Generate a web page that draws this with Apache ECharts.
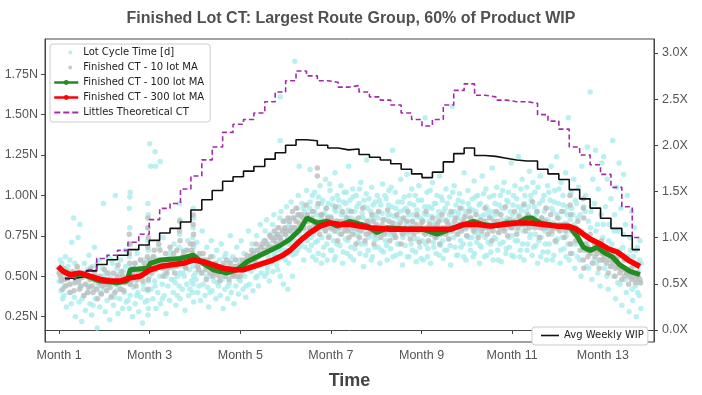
<!DOCTYPE html>
<html><head><meta charset="utf-8">
<script src="https://cdn.jsdelivr.net/npm/echarts@6/dist/echarts.min.js"></script>
<style>html,body{margin:0;padding:0;background:#fff}#c{width:702px;height:395px}</style>
</head><body><div id="c"></div>
<script>
// ---------- tick labels ----------
const xTickMonths = [1, 3, 5, 7, 9, 11, 13];
const leftTicks = [0.25, 0.5, 0.75, 1.0, 1.25, 1.5, 1.75];
const rightTicks = [0, 0.5, 1.0, 1.5, 2.0, 2.5, 3.0];

// ---------- weekly step series ----------
const weekMonths = [1.13,1.36,1.60,1.83,2.06,2.29,2.52,2.76,2.99,3.22,3.45,3.68,3.91,4.15,4.38,4.61,4.84,5.07,5.30,5.54,5.77,6.00,6.23,6.46,6.70,6.93,7.16,7.39,7.62,7.85,8.09,8.32,8.55,8.78,9.01,9.24,9.48,9.71,9.94,10.17,10.40,10.64,10.87,11.10,11.33,11.56,11.79,12.03,12.26,12.49,12.72,12.95,13.18,13.42,13.65,13.82];
const avgWip = [0.56,0.58,0.64,0.71,0.76,0.81,0.87,0.92,0.97,1.05,1.10,1.17,1.30,1.41,1.51,1.61,1.66,1.72,1.77,1.85,1.92,2.00,2.06,2.05,2.00,1.97,1.95,1.96,1.90,1.87,1.84,1.80,1.74,1.69,1.65,1.71,1.82,1.91,1.97,1.89,1.88,1.86,1.84,1.83,1.83,1.74,1.69,1.63,1.52,1.42,1.32,1.21,1.10,1.02,0.87,0.87];
const littlesCT = [0.48,0.50,0.54,0.61,0.63,0.66,0.71,0.76,0.85,0.92,0.95,1.04,1.12,1.22,1.30,1.39,1.44,1.47,1.51,1.58,1.64,1.71,1.77,1.74,1.71,1.70,1.67,1.68,1.64,1.61,1.59,1.56,1.51,1.47,1.43,1.47,1.56,1.65,1.69,1.62,1.61,1.59,1.58,1.58,1.57,1.50,1.46,1.41,1.30,1.25,1.19,1.13,1.05,0.93,0.74,0.74];

// ---------- moving averages ----------
const ma100Months = [1.09,1.24,1.53,1.91,2.28,2.50,2.57,2.96,3.01,3.23,3.67,3.96,4.18,4.40,4.71,4.93,5.15,5.37,5.59,5.88,6.10,6.32,6.47,6.70,6.92,7.14,7.42,7.80,8.02,8.24,8.68,9.04,9.34,9.63,9.85,10.14,10.36,10.58,10.89,11.11,11.33,11.44,11.62,11.99,12.28,12.43,12.57,12.72,12.88,13.01,13.21,13.38,13.60,13.82];
const ma100 = [0.53,0.51,0.51,0.47,0.46,0.47,0.54,0.55,0.58,0.60,0.61,0.63,0.58,0.54,0.52,0.54,0.59,0.62,0.65,0.69,0.73,0.79,0.86,0.83,0.84,0.81,0.84,0.81,0.77,0.80,0.79,0.79,0.76,0.79,0.81,0.84,0.82,0.81,0.83,0.83,0.86,0.86,0.83,0.81,0.80,0.75,0.68,0.66,0.68,0.65,0.62,0.57,0.53,0.51];
const ma300Months = [0.98,1.09,1.24,1.46,1.68,1.91,2.13,2.35,2.57,2.79,3.01,3.23,3.45,3.74,3.96,4.18,4.40,4.62,4.84,5.06,5.28,5.50,5.72,5.94,6.10,6.32,6.54,6.76,6.98,7.20,7.42,7.87,8.31,8.75,9.19,9.63,9.92,10.23,10.51,10.80,11.11,11.40,11.68,11.99,12.24,12.43,12.57,12.72,12.94,13.12,13.32,13.56,13.82];
const ma300 = [0.56,0.53,0.51,0.52,0.50,0.48,0.47,0.47,0.49,0.50,0.54,0.56,0.57,0.58,0.60,0.59,0.57,0.55,0.54,0.54,0.56,0.58,0.60,0.63,0.66,0.72,0.77,0.81,0.83,0.82,0.82,0.80,0.79,0.79,0.79,0.79,0.82,0.82,0.81,0.82,0.83,0.83,0.82,0.81,0.81,0.79,0.76,0.73,0.70,0.67,0.65,0.60,0.56];

// ---------- lot cycle times [month, N] ----------
const lotCycleTime = [
[0.98,0.55],[1.0,0.47],[1.02,0.52],[1.04,0.41],[1.06,0.58],[1.08,0.36],[1.1,0.5],[1.12,0.44],[1.14,0.62],[1.16,0.31],[1.18,0.49],[1.2,0.56],[1.22,0.4],[1.24,0.6],[1.26,0.45],[1.28,0.71],[1.3,0.52],[1.32,0.86],[1.34,0.37],[1.36,0.25],[1.38,0.48],[1.4,0.55],[1.42,0.74],[1.44,0.34],[1.46,0.82],[1.48,0.43],[1.5,0.22],
[1.52,0.5],[1.54,0.38],[1.56,0.58],[1.58,0.29],[1.6,0.45],[1.62,0.54],[1.64,0.4],[1.66,0.63],[1.68,0.33],[1.7,0.48],[1.72,0.26],[1.74,0.56],[1.76,0.42],[1.78,0.68],[1.8,0.36],[1.82,0.5],[1.84,0.18],[1.86,0.44],[1.88,0.6],[1.9,0.31],[1.92,0.47],[1.94,0.39],[1.96,0.55],[1.98,0.95],[2.0,0.42],[2.02,0.28],[2.04,0.52],[2.06,0.35],[2.08,0.62],[2.1,0.45],[2.12,0.23],[2.14,0.5],[2.16,0.38],[2.18,0.58],[2.2,0.32],[2.22,0.47],[2.24,1.0],[2.26,0.41],[2.28,0.55],[2.3,0.27],[2.32,0.44],[2.34,0.36],[2.36,0.6],[2.38,0.49],[2.4,0.3],[2.42,0.53],[2.44,0.4],[2.46,0.66],[2.48,0.34],
[2.55,0.92],[2.56,0.99],[2.57,1.02],[2.56,0.8],[2.57,0.7],[2.55,0.62],[2.58,0.55],[2.56,0.45],[2.57,0.38],[2.55,0.3],
[2.5,0.48],[2.52,0.35],[2.6,0.52],[2.62,0.25],[2.64,0.43],[2.66,0.58],[2.68,0.33],[2.7,0.47],[2.72,0.64],[2.74,0.4],[2.76,0.28],[2.78,0.55],[2.8,0.37],[2.82,0.5],[2.84,0.21],[2.86,0.45],[2.88,0.6],[2.9,0.34],[2.92,0.52],
[2.96,0.95],[2.97,0.88],[2.96,0.8],[2.95,0.72],[2.97,0.66],[2.96,0.6],[2.95,0.53],[2.97,0.47],[2.96,0.41],[2.95,0.35],[2.97,0.3],[2.96,0.26],
[3.0,1.32],[3.12,1.27],[3.23,1.21],[3.02,1.18],[3.13,1.18],
[3.0,0.5],[3.03,0.42],[3.05,0.58],[3.07,0.36],[3.09,0.62],[3.11,0.47],[3.14,0.3],[3.16,0.55],[3.18,0.4],[3.2,0.68],[3.22,0.5],[3.24,0.33],[3.26,0.58],[3.28,0.45],[3.3,0.74],[3.32,0.38],[3.34,0.52],[3.36,0.27],[3.38,0.6],[3.4,0.44],[3.42,0.56],[3.44,0.35],[3.46,0.65],[3.48,0.48],
[3.5,0.55],[3.52,0.4],[3.54,0.7],[3.56,0.46],[3.58,0.32],[3.6,0.6],[3.62,0.5],
[3.66,0.95],[3.67,0.85],[3.66,0.76],[3.65,0.68],[3.67,0.6],[3.66,0.52],[3.65,0.44],[3.67,0.36],
[3.7,0.57],[3.72,0.42],[3.74,0.66],[3.76,0.5],[3.78,0.29],[3.8,0.58],[3.82,0.45],[3.84,0.72],[3.86,0.38],[3.88,0.54],[3.9,0.62],[3.92,0.47],
[3.96,0.92],[3.97,0.86],[3.96,0.8],[3.95,0.74],[3.97,0.68],[3.96,0.62],[3.95,0.56],[3.97,0.5],[3.96,0.45],[3.95,0.4],[3.97,0.34],
[4.0,0.6],[4.02,0.48],[4.04,0.71],[4.06,0.4],[4.08,0.55],[4.1,0.63],[4.12,0.35],[4.14,0.52],[4.16,0.78],[4.18,0.45],[4.2,0.6],[4.22,0.38],[4.24,0.56],[4.26,0.68],[4.28,0.43],[4.3,0.31],[4.32,0.58],[4.34,0.5],[4.36,0.72],[4.38,0.41],[4.4,0.62],[4.42,0.47],[4.44,0.55],[4.46,0.36],[4.48,0.66],
[4.5,0.52],[4.52,0.44],[4.54,0.6],[4.56,0.38],[4.58,0.7],[4.6,0.48],[4.62,0.3],[4.64,0.56],[4.66,0.42],[4.68,0.64],[4.7,0.5],[4.72,0.36],[4.74,0.58],[4.76,0.46],[4.78,0.75],[4.8,0.4],[4.82,0.54],[4.84,0.62],[4.86,0.33],[4.88,0.5],[4.9,0.44],[4.92,0.68],[4.94,0.56],[4.96,0.39],[4.98,0.6],[5.0,0.47],[5.02,0.72],[5.04,0.52],[5.06,0.42],[5.08,0.64],[5.1,0.5],[5.12,0.37],[5.14,0.6],[5.16,0.55],[5.18,0.78],[5.2,0.45],[5.22,0.62],[5.24,0.53],[5.26,0.7],[5.28,0.41],[5.3,0.58],[5.32,0.66],[5.34,0.49],[5.36,0.75],[5.38,0.56],[5.4,0.44],[5.42,0.63],[5.44,0.82],[5.46,0.52],[5.48,0.68],
[5.5,0.58],[5.52,0.72],[5.54,0.5],[5.56,0.66],[5.58,0.85],[5.6,0.55],[5.62,0.62],[5.64,0.47],[5.66,0.76],[5.68,0.6],[5.7,0.68],[5.72,0.53],[5.74,0.88],[5.76,0.64],[5.78,0.72],[5.8,0.57],[5.82,0.8],[5.84,0.66],[5.86,0.74],[5.88,1.61],[5.88,1.34],[5.88,0.5],[5.9,0.9],[5.92,0.7],[5.94,0.62],[5.96,0.78],[5.98,0.84],[6.0,0.66],[6.02,0.93],[6.04,0.74],[6.06,0.58],[6.08,0.82],[6.1,0.7],[6.12,0.96],[6.14,0.77],[6.16,0.63],[6.18,0.86],[6.2,1.83],[6.2,0.72],[6.22,0.92],[6.24,0.8],[6.26,0.66],[6.28,1.0],[6.3,1.18],[6.3,0.76],[6.32,0.87],[6.34,0.7],[6.36,0.95],[6.38,0.82],[6.4,0.6],[6.42,0.9],[6.44,0.78],[6.46,1.03],[6.48,0.72],[6.54,1.16],[5.95,0.45],[6.15,0.5],[6.05,0.42],
[6.5,0.85],[6.52,0.66],[6.54,0.96],[6.56,0.74],[6.58,0.9],[6.6,0.62],[6.62,0.82],[6.64,1.02],[6.66,0.71],[6.68,0.88],[6.7,0.93],[6.72,0.64],[6.74,0.79],[6.76,1.06],[6.78,0.86],[6.79,0.58],[6.8,0.74],[6.82,0.97],[6.84,0.68],[6.86,0.89],[6.88,1.1],[6.9,0.8],[6.92,0.6],[6.94,0.95],[6.96,0.75],[6.98,1.03],
[7.0,0.87],[7.02,0.66],[7.04,0.98],[7.06,0.72],[7.08,0.91],[7.09,1.14],[7.1,0.62],[7.12,0.84],[7.14,1.0],[7.16,0.77],[7.18,0.93],[7.2,0.69],[7.22,1.06],[7.24,0.82],[7.26,0.58],[7.28,0.96],[7.3,0.88],[7.32,0.73],[7.34,1.02],[7.36,0.64],[7.38,0.91],[7.39,1.18],[7.4,0.79],[7.42,0.97],[7.44,0.68],[7.46,0.86],[7.48,1.04],
[7.5,0.6],[7.52,0.9],[7.54,0.76],[7.56,1.0],[7.58,0.83],[7.6,0.71],[7.62,0.95],[7.64,0.64],[7.66,1.08],[7.68,0.87],[7.7,0.78],[7.72,0.56],[7.74,0.93],[7.76,0.7],[7.78,1.01],[7.79,1.22],[7.8,0.84],[7.82,0.66],[7.84,0.98],[7.86,0.75],[7.88,0.9],[7.9,1.05],[7.92,0.62],[7.94,0.86],[7.96,0.73],[7.98,0.96],
[8.0,0.8],[8.02,1.0],[8.04,0.68],[8.06,0.9],[8.08,0.58],[8.1,0.94],[8.12,0.77],[8.14,1.07],[8.16,0.65],[8.18,0.85],[8.2,0.72],[8.22,0.98],[8.24,0.6],[8.26,0.88],[8.28,1.03],[8.3,0.79],[8.32,0.67],[8.34,0.93],[8.36,1.28],[8.38,0.74],[8.4,0.87],[8.42,1.02],[8.44,0.63],[8.46,0.82],[8.48,0.96],
[8.5,0.7],[8.52,0.9],[8.54,1.1],[8.56,0.77],[8.58,0.57],[8.6,0.85],[8.62,0.99],[8.64,0.69],[8.66,0.92],[8.68,1.13],[8.7,0.76],[8.72,0.62],[8.74,0.95],[8.76,0.81],[8.78,1.04],[8.8,0.66],[8.82,0.88],[8.84,0.73],[8.86,1.0],[8.88,0.59],[8.9,0.91],[8.92,0.78],[8.94,1.06],[8.96,0.68],[8.98,0.86],
[9.0,0.97],[9.02,0.72],[9.04,0.6],[9.06,0.89],[9.08,1.48],[9.1,0.8],[9.12,1.02],[9.14,0.67],[9.16,0.93],[9.18,0.76],[9.2,0.58],[9.22,0.87],[9.24,1.08],[9.26,0.71],[9.28,0.95],[9.3,0.82],[9.32,0.64],[9.34,1.0],[9.36,0.75],[9.38,0.9],[9.4,1.12],[9.42,0.69],[9.44,0.85],[9.46,0.97],[9.48,0.61],
[9.5,0.78],[9.52,0.92],[9.54,1.04],[9.56,0.66],[9.58,0.84],[9.6,0.73],[9.62,0.99],[9.64,0.57],[9.66,0.88],[9.68,1.55],[9.7,0.81],[9.72,1.06],[9.74,0.68],[9.76,0.94],[9.78,0.76],[9.8,0.63],[9.82,0.89],[9.84,1.01],[9.86,0.72],[9.88,0.85],[9.9,0.96],[9.92,0.7],[9.94,1.14],[9.96,0.79],[9.98,0.6],
[10.0,0.87],[10.02,1.03],[10.04,0.74],[10.06,0.92],[10.08,0.66],[10.1,0.82],[10.12,0.98],[10.14,0.62],[10.16,1.09],[10.18,0.77],[10.2,0.9],[10.22,0.71],[10.24,1.0],[10.26,0.84],[10.28,0.58],[10.3,0.95],[10.32,0.68],[10.34,1.12],[10.36,0.8],[10.38,0.88],[10.4,0.74],[10.42,1.04],[10.44,0.63],[10.46,0.91],[10.48,0.79],
[10.5,0.99],[10.52,0.7],[10.54,0.86],[10.56,1.17],[10.58,0.6],[10.6,0.83],[10.62,0.95],[10.64,0.73],[10.66,1.05],[10.68,0.66],[10.7,0.89],[10.72,0.77],[10.74,1.0],[10.76,0.59],[10.78,0.92],[10.8,0.71],[10.82,1.08],[10.84,0.84],[10.86,0.64],[10.88,0.97],[10.9,0.8],[10.92,1.02],[10.94,0.68],[10.96,0.9],[10.98,1.2],
[11.0,0.75],[11.02,0.94],[11.04,0.62],[11.06,1.06],[11.08,0.85],[11.1,0.98],[11.12,0.72],[11.14,1.24],[11.16,0.88],[11.18,0.66],[11.2,0.91],[11.22,1.1],[11.24,0.78],[11.26,0.6],[11.28,1.0],[11.3,0.83],[11.32,1.05],[11.34,0.7],[11.36,0.93],[11.38,1.15],[11.4,0.76],[11.42,0.97],[11.44,0.63],[11.46,1.08],[11.48,0.86],
[11.5,1.02],[11.52,0.69],[11.54,0.9],[11.56,0.58],[11.58,0.8],[11.6,0.95],[11.62,1.12],[11.64,0.74],[11.66,0.86],[11.68,0.65],[11.7,1.0],[11.72,0.78],[11.74,0.92],[11.76,0.6],[11.78,1.06],[11.8,0.84],[11.82,0.7],[11.84,0.97],[11.86,1.18],[11.88,0.76],[11.9,0.9],[11.92,0.63],[11.94,1.03],[11.96,0.8],[11.98,1.24],
[12.0,0.73],[12.02,0.95],[12.04,0.86],[12.06,0.58],[12.08,1.08],[12.1,0.82],[12.12,1.0],[12.14,0.67],[12.16,0.9],[12.18,1.14],[12.2,0.75],[12.22,0.93],[12.24,1.48],[12.26,0.6],[12.28,0.85],[12.3,1.02],[12.32,0.7],[12.34,0.88],[12.36,1.1],[12.38,0.55],
[12.4,0.8],[12.42,0.95],[12.44,0.62],[12.46,1.05],[12.48,0.72],[12.5,0.88],[12.52,0.5],[12.54,1.18],[12.56,0.68],[12.58,0.93],[12.6,0.76],[12.62,1.0],[12.64,0.56],[12.66,1.3],[12.68,0.84],[12.7,0.64],[12.72,1.64],[12.74,0.9],[12.76,0.48],[12.78,1.1],[12.8,0.72],[12.82,0.95],[12.84,1.28],[12.86,0.58],[12.88,0.82],[12.9,1.04],[12.92,0.66],[12.94,0.44],[12.96,0.88],[12.98,1.2],
[13.0,0.74],[13.02,1.24],[13.04,0.55],[13.06,0.93],[13.08,0.68],[13.1,1.1],[13.12,0.42],[13.14,0.82],[13.16,0.62],[13.18,0.98],[13.2,0.7],[13.22,1.34],[13.24,0.5],[13.26,0.88],[13.28,0.36],[13.3,1.05],[13.32,0.6],[13.34,0.78],[13.36,1.2],[13.38,0.45],[13.4,0.92],[13.42,0.32],[13.44,0.68],[13.46,1.13],[13.48,0.55],
[13.5,0.82],[13.52,0.4],[13.54,1.0],[13.56,0.62],[13.58,0.28],[13.6,0.74],[13.62,0.5],[13.64,0.9],[13.66,0.35],[13.68,0.62],[13.7,0.8],[13.72,0.44],[13.74,0.25],[13.76,0.68],[13.78,0.53],[13.8,0.38],[13.82,0.72],[13.84,0.3],[13.85,0.58],[13.83,0.46],
[1.03,0.6],[1.11,0.38],[1.19,0.53],[1.27,0.33],[1.35,0.58],[1.43,0.46],[1.51,0.36],[1.59,0.52],[1.67,0.44],[1.75,0.32],[1.83,0.57],[1.91,0.4],[1.99,0.5],[2.07,0.43],[2.15,0.6],[2.23,0.37],[2.31,0.51],[2.39,0.42],[2.47,0.56],[2.63,0.5],[2.71,0.38],[2.79,0.6],[2.87,0.42],[3.04,0.55],[3.12,0.44],[3.2,0.58],[3.28,0.36],[3.36,0.5],[3.44,0.62],[3.53,0.48],[3.61,0.38],[3.73,0.52],[3.81,0.66],[3.89,0.42],[4.01,0.52],[4.09,0.44],[4.17,0.6],[4.25,0.5],[4.33,0.4],[4.41,0.54],[4.49,0.46],[4.57,0.55],[4.65,0.62],[4.73,0.44],[4.81,0.6],[4.89,0.56],[4.97,0.48],[5.05,0.58],[5.13,0.44],[5.21,0.55],[5.29,0.64],[5.37,0.5],[5.45,0.58],
[5.51,0.64],[5.55,0.78],[5.59,0.52],[5.63,0.7],[5.67,0.58],[5.71,0.82],[5.75,0.62],[5.79,0.76],[5.83,0.54],[5.87,0.86],[5.91,0.66],[5.95,0.76],[5.99,0.6],[6.03,0.8],[6.07,0.7],[6.11,0.86],[6.15,0.66],[6.19,0.78],[6.23,0.64],[6.27,0.88],[6.31,0.68],[6.35,0.8],[6.39,0.92],[6.43,0.68],[6.47,0.88],
[6.51,0.78],[6.53,0.92],[6.57,0.69],[6.59,1.0],[6.61,0.76],[6.63,0.9],[6.67,0.6],[6.69,0.83],[6.71,0.72],[6.73,0.99],[6.77,0.81],[6.79,0.95],[6.81,0.85],[6.83,0.63],[6.87,0.78],[6.89,0.92],[6.91,0.7],[6.93,0.87],[6.97,1.07],[6.99,0.66],
[7.01,0.79],[7.03,0.94],[7.07,0.6],[7.09,0.84],[7.11,0.9],[7.13,0.7],[7.17,0.97],[7.19,0.8],[7.21,0.76],[7.23,0.88],[7.27,0.65],[7.29,1.02],[7.31,0.81],[7.33,0.95],[7.37,0.72],[7.39,0.86],[7.41,0.9],[7.43,0.62],[7.47,0.78],[7.49,0.99],
[7.51,0.84],[7.53,0.67],[7.57,0.93],[7.59,0.75],[7.61,0.8],[7.63,1.04],[7.67,0.7],[7.69,0.89],[7.71,0.86],[7.73,0.97],[7.77,0.63],[7.79,0.8],[7.81,0.92],[7.83,0.74],[7.87,0.85],[7.89,0.6],[7.91,0.78],[7.93,0.94],[7.97,0.68],[7.99,0.88],
[8.01,0.73],[8.03,0.86],[8.07,0.97],[8.09,0.77],[8.11,0.66],[8.13,0.89],[8.17,0.8],[8.19,1.0],[8.21,0.85],[8.23,0.69],[8.27,0.94],[8.29,0.76],[8.31,0.88],[8.33,1.05],[8.37,0.62],[8.39,0.83],[8.41,0.75],[8.43,0.92],[8.47,0.7],[8.49,0.86],
[8.51,0.8],[8.53,0.64],[8.57,0.96],[8.59,0.74],[8.61,0.91],[8.63,0.77],[8.67,0.83],[8.69,0.62],[8.71,0.88],[8.73,1.0],[8.77,0.7],[8.79,0.84],[8.81,0.78],[8.83,0.94],[8.87,0.65],[8.89,0.87],[8.91,0.73],[8.93,0.97],[8.97,0.8],[8.99,0.61],
[9.01,0.85],[9.03,0.79],[9.07,0.93],[9.09,0.7],[9.11,0.88],[9.13,0.62],[9.17,0.84],[9.19,1.03],[9.21,0.77],[9.23,0.92],[9.27,0.68],[9.29,0.83],[9.31,0.95],[9.33,0.74],[9.37,0.87],[9.39,0.63],[9.41,0.8],[9.43,0.99],[9.47,0.72],[9.49,0.9],
[9.51,0.66],[9.53,0.85],[9.57,0.95],[9.59,0.77],[9.61,0.88],[9.63,0.69],[9.67,0.82],[9.69,1.02],[9.71,0.74],[9.73,0.9],[9.77,0.63],[9.79,0.86],[9.81,0.97],[9.83,0.78],[9.87,0.68],[9.89,0.92],[9.91,0.83],[9.93,0.62],[9.97,0.9],[9.99,0.75],
[10.01,0.8],[10.03,0.95],[10.07,0.7],[10.09,0.86],[10.11,0.74],[10.13,0.91],[10.17,0.64],[10.19,0.99],[10.21,0.82],[10.23,0.77],[10.27,0.94],[10.29,0.69],[10.31,0.87],[10.33,0.76],[10.37,1.01],[10.39,0.62],[10.41,0.84],[10.43,0.93],[10.47,0.71],[10.49,0.88],
[10.51,0.78],[10.53,0.65],[10.57,0.9],[10.59,1.0],[10.61,0.74],[10.63,0.88],[10.67,0.81],[10.69,0.6],[10.71,0.94],[10.73,0.7],[10.77,0.85],[10.79,1.03],[10.81,0.79],[10.83,0.92],[10.87,0.67],[10.89,0.86],[10.91,0.96],[10.93,0.74],[10.97,0.82],[10.99,0.63],
[11.01,0.88],[11.03,1.0],[11.07,0.72],[11.09,0.84],[11.11,0.78],[11.13,0.93],[11.17,0.62],[11.19,1.04],[11.21,0.84],[11.23,0.7],[11.27,0.95],[11.29,0.8],[11.31,0.9],[11.33,0.66],[11.37,0.87],[11.39,0.74],[11.41,1.0],[11.43,0.82],[11.47,0.68],[11.49,0.93],
[11.51,0.76],[11.53,0.88],[11.57,1.05],[11.59,0.72],[11.61,0.84],[11.63,0.62],[11.67,0.97],[11.69,0.79],[11.71,0.9],[11.73,0.7],[11.77,0.85],[11.79,0.65],[11.81,1.02],[11.83,0.77],[11.87,0.92],[11.89,0.6],[11.91,0.83],[11.93,0.96],[11.97,0.71],[11.99,0.88],
[12.01,0.79],[12.03,1.04],[12.07,0.66],[12.09,0.9],[12.11,0.74],[12.13,0.94],[12.17,0.83],[12.19,0.62],[12.21,0.88],[12.23,0.7],[12.27,1.0],[12.29,0.78],[12.31,0.92],[12.33,0.64],[12.37,0.82],[12.39,0.97],
[12.41,0.7],[12.45,0.86],[12.49,0.6],[12.53,0.78],[12.57,0.66],[12.61,0.9],[12.65,0.7],[12.69,0.55],[12.73,0.8],[12.77,0.66],[12.81,0.6],[12.85,0.78],[12.89,0.52],[12.93,0.7],[12.97,0.6],[13.01,0.82],[13.05,0.64],[13.09,0.5],[13.13,0.72],[13.17,0.56],[13.21,0.64],[13.25,0.78],[13.29,0.58],[13.33,0.46],[13.37,0.66],[13.41,0.56],[13.45,0.76],[13.49,0.48],[13.53,0.62],[13.57,0.52],[13.61,0.66],[13.65,0.42],[13.69,0.56],[13.73,0.66],[13.77,0.4],[13.81,0.6]
];

// ---------- 10-lot moving average points [month, N] ----------
const ma10 = [
[1.0,0.52],[1.05,0.47],[1.1,0.55],[1.15,0.44],[1.2,0.5],[1.25,0.4],[1.3,0.53],[1.35,0.46],[1.4,0.56],[1.45,0.42],[1.5,0.49],
[1.55,0.38],[1.6,0.5],[1.65,0.43],[1.7,0.55],[1.75,0.4],[1.8,0.47],[1.85,0.36],[1.9,0.5],[1.95,0.44],[2.0,0.54],[2.05,0.41],[2.1,0.48],[2.15,0.37],[2.2,0.52],[2.25,0.45],[2.3,0.57],[2.35,0.42],[2.4,0.5],[2.45,0.46],
[2.55,0.76],[2.56,0.7],[2.55,0.64],[2.56,0.58],[2.57,0.52],
[2.6,0.48],[2.65,0.55],[2.7,0.44],[2.75,0.52],[2.8,0.6],[2.85,0.47],[2.9,0.56],
[2.96,0.86],[2.96,0.8],[2.97,0.74],[2.96,0.68],[2.95,0.62],[2.96,0.55],[2.97,0.48],[2.96,0.42],
[3.0,0.6],[3.05,0.52],[3.1,0.66],[3.15,0.56],[3.2,0.7],[3.25,0.58],[3.3,0.5],[3.35,0.64],[3.4,0.55],[3.45,0.68],[3.5,0.6],[3.55,0.52],[3.6,0.66],
[3.66,0.84],[3.66,0.78],[3.67,0.72],
[3.7,0.58],[3.75,0.65],[3.8,0.55],[3.85,0.62],[3.9,0.7],
[3.96,0.88],[3.96,0.82],[3.97,0.76],[3.96,0.7],[3.95,0.64],
[4.0,0.6],[4.05,0.56],[4.1,0.64],[4.15,0.52],[4.2,0.6],[4.25,0.48],[4.3,0.56],[4.35,0.62],[4.4,0.5],[4.45,0.58],[4.5,0.53],[4.55,0.47],[4.6,0.56],[4.65,0.5],[4.7,0.6],[4.75,0.48],[4.8,0.55],[4.85,0.51],[4.9,0.6],[4.95,0.54],[5.0,0.5],[5.05,0.6],[5.1,0.55],[5.15,0.63],[5.2,0.57],[5.25,0.66],[5.3,0.6],[5.35,0.7],[5.4,0.62],[5.45,0.68],[5.5,0.64],[5.55,0.72],[5.6,0.66],[5.65,0.75],[5.7,0.68],[5.75,0.78],[5.8,0.7],[5.85,0.8],[5.9,0.72],[5.95,0.84],[6.0,0.76],[6.05,0.86],[6.1,0.78],[6.15,0.9],[6.2,0.8],[6.25,0.92],[6.3,0.83],[6.35,0.88],[6.4,0.8],[6.45,0.94],
[6.5,0.84],[6.55,0.78],[6.6,0.9],[6.65,0.82],[6.7,1.17],[6.7,1.12],[6.72,0.95],[6.75,0.76],[6.8,0.88],[6.85,0.8],[6.9,0.92],[6.95,0.74],[7.0,0.86],[7.05,0.8],[7.1,0.93],[7.15,0.72],[7.2,0.84],[7.25,0.9],[7.3,0.78],[7.35,0.86],[7.4,0.74],[7.45,0.9],[7.5,0.8],[7.55,0.7],[7.6,0.86],[7.65,0.78],[7.7,0.92],[7.75,0.72],[7.8,0.84],[7.85,0.77],[7.9,0.88],[7.95,0.7],[8.0,0.82],[8.05,0.9],[8.1,0.74],[8.15,0.85],[8.2,0.78],[8.25,0.91],[8.3,0.72],[8.35,0.83],[8.4,0.76],[8.45,0.88],[8.5,0.8],[8.55,0.7],[8.6,0.86],[8.65,0.78],[8.7,0.9],[8.75,0.73],[8.8,0.84],[8.85,0.79],[8.9,0.88],[8.95,0.71],[9.0,0.83],[9.05,0.77],[9.1,0.9],[9.15,0.72],[9.2,0.8],[9.25,0.86],[9.3,0.74],[9.35,0.82],[9.4,0.7],[9.45,0.88],[9.5,0.78],[9.55,0.84],[9.6,0.73],[9.65,0.9],[9.7,0.8],[9.75,0.86],[9.8,0.76],[9.85,0.92],[9.9,0.8],[9.95,0.87],[10.0,0.75],[10.05,0.9],[10.1,0.82],[10.15,0.78],[10.2,0.88],[10.25,0.74],[10.3,0.85],[10.35,0.8],[10.4,0.92],[10.45,0.76],[10.5,0.86],[10.55,0.72],[10.6,0.84],[10.65,0.9],[10.7,0.77],[10.75,0.88],[10.8,0.8],[10.85,0.93],[10.9,0.75],[10.95,0.85],[11.0,0.8],[11.05,0.9],[11.1,0.76],[11.15,0.87],[11.2,0.82],[11.25,0.94],[11.3,0.78],[11.35,0.88],[11.4,0.84],[11.45,0.96],[11.5,0.8],[11.55,0.9],[11.6,0.74],[11.65,0.86],[11.7,0.8],[11.75,0.92],[11.8,0.76],[11.85,0.88],[11.9,0.8],[11.95,0.72],[12.0,0.86],[12.05,0.78],[12.1,0.9],[12.15,0.74],[12.2,0.82],
[12.28,1.0],[12.28,0.94],[12.29,0.88],[12.28,0.7],[12.29,0.64],
[12.35,0.8],[12.4,0.72],[12.45,0.84],[12.5,0.66],
[12.57,0.98],[12.57,0.92],[12.58,0.86],[12.57,0.6],[12.58,0.55],
[12.62,0.7],[12.67,0.62],[12.72,0.76],[12.77,0.58],[12.82,0.7],[12.87,0.64],[12.92,0.55],[12.97,0.72],[13.02,0.6],[13.07,0.66],[13.12,0.52],[13.17,0.64],[13.22,0.58],[13.27,0.5],[13.32,0.62],[13.37,0.55],[13.42,0.48],[13.47,0.6],[13.52,0.52],[13.57,0.45],[13.62,0.55],[13.67,0.5],[13.72,0.46],[13.77,0.52],[13.82,0.48],
[1.03,0.5],[1.08,0.42],[1.13,0.48],[1.18,0.53],[1.23,0.45],[1.28,0.5],[1.33,0.41],[1.38,0.51],[1.43,0.47],[1.48,0.44],[1.53,0.52],[1.58,0.45],[1.63,0.4],[1.68,0.48],[1.73,0.44],[1.78,0.52],[1.83,0.42],[1.88,0.46],[1.93,0.39],[1.98,0.48],[2.03,0.45],[2.08,0.52],[2.13,0.43],[2.18,0.47],[2.23,0.4],[2.28,0.5],[2.33,0.47],[2.38,0.53],[2.43,0.41],[2.48,0.49],
[2.53,0.5],[2.58,0.45],[2.63,0.52],[2.68,0.58],[2.73,0.48],[2.78,0.54],[2.83,0.5],[2.88,0.58],[2.93,0.52],[3.03,0.56],[3.08,0.62],[3.13,0.54],[3.18,0.6],[3.23,0.66],[3.28,0.55],[3.33,0.6],[3.38,0.52],[3.43,0.6],[3.48,0.56],[3.53,0.64],[3.58,0.56],[3.63,0.6],[3.73,0.62],[3.78,0.56],[3.83,0.66],[3.88,0.6],[3.93,0.66],[4.03,0.62],[4.08,0.54],[4.13,0.58],[4.18,0.64],[4.23,0.54],[4.28,0.6],[4.33,0.52],[4.38,0.56],[4.43,0.52],[4.48,0.56],[4.53,0.5],[4.58,0.54],[4.63,0.58],[4.68,0.52],[4.73,0.55],[4.78,0.58],[4.83,0.5],[4.88,0.56],[4.93,0.5],[4.98,0.57],[5.03,0.54],[5.08,0.58],[5.13,0.6],[5.18,0.56],[5.23,0.62],[5.28,0.64],[5.33,0.6],[5.38,0.66],[5.43,0.64],[5.48,0.7],[5.53,0.66],[5.58,0.7],[5.63,0.68],[5.68,0.74],[5.73,0.72],[5.78,0.74],[5.83,0.76],[5.88,0.74],[5.93,0.78],[5.98,0.8],[6.03,0.78],[6.08,0.84],[6.13,0.8],[6.18,0.86],[6.23,0.84],[6.28,0.88],[6.33,0.8],[6.38,0.86],[6.43,0.84],[6.48,0.88],
[6.53,0.8],[6.58,0.86],[6.63,0.78],[6.68,0.84],[6.73,0.82],[6.78,0.88],[6.83,0.82],[6.88,0.78],[6.93,0.86],[6.98,0.8],[7.03,0.84],[7.08,0.78],[7.13,0.84],[7.18,0.8],[7.23,0.76],[7.28,0.84],[7.33,0.8],[7.38,0.78],[7.43,0.82],[7.48,0.76],[7.53,0.84],[7.58,0.79],[7.63,0.74],[7.68,0.82],[7.73,0.8],[7.78,0.76],[7.83,0.82],[7.88,0.78],[7.93,0.84],[7.98,0.76],[8.03,0.8],[8.08,0.78],[8.13,0.82],[8.18,0.76],[8.23,0.8],[8.28,0.84],[8.33,0.78],[8.38,0.8],[8.43,0.74],[8.48,0.8],[8.53,0.83],[8.58,0.76],[8.63,0.8],[8.68,0.84],[8.73,0.78],[8.78,0.8],[8.83,0.76],[8.88,0.82],[8.93,0.78],[8.98,0.8],[9.03,0.84],[9.08,0.76],[9.13,0.8],[9.18,0.82],[9.23,0.76],[9.28,0.8],[9.33,0.78],[9.38,0.84],[9.43,0.76],[9.48,0.8],[9.53,0.76],[9.58,0.82],[9.63,0.8],[9.68,0.78],[9.73,0.84],[9.78,0.8],[9.83,0.82],[9.88,0.78],[9.93,0.84],[9.98,0.8],[10.03,0.82],[10.08,0.86],[10.13,0.8],[10.18,0.84],[10.23,0.8],[10.28,0.82],[10.33,0.78],[10.38,0.84],[10.43,0.8],[10.48,0.82],[10.53,0.8],[10.58,0.78],[10.63,0.82],[10.68,0.84],[10.73,0.8],[10.78,0.82],[10.83,0.78],[10.88,0.84],[10.93,0.82],[10.98,0.8],[11.03,0.84],[11.08,0.82],[11.13,0.8],[11.18,0.84],[11.23,0.82],[11.28,0.86],[11.33,0.82],[11.38,0.8],[11.43,0.86],[11.48,0.84],[11.53,0.82],[11.58,0.84],[11.63,0.8],[11.68,0.82],[11.73,0.84],[11.78,0.8],[11.83,0.82],[11.88,0.78],[11.93,0.82],[11.98,0.8],[12.03,0.82],[12.08,0.8],[12.13,0.82],[12.18,0.78],[12.23,0.8],
[12.33,0.78],[12.38,0.76],[12.43,0.74],[12.48,0.72],[12.53,0.7],[12.63,0.66],[12.68,0.68],[12.73,0.64],[12.78,0.66],[12.83,0.62],[12.88,0.66],[12.93,0.6],[12.98,0.64],[13.03,0.62],[13.08,0.58],[13.13,0.6],[13.18,0.56],[13.23,0.6],[13.28,0.55],[13.33,0.56],[13.38,0.52],[13.43,0.54],[13.48,0.5],[13.53,0.52],[13.58,0.5],[13.63,0.48],[13.68,0.52],[13.73,0.48],[13.78,0.5],[13.83,0.46]
];

const zip = (a, b) => a.map((m, i) => [m, b[i]]);
const sans = 'Liberation Sans, Arial, sans-serif';
const dv = 'DejaVu Sans, sans-serif';
const axisColor = '#444';
const labelColor = '#555';
const dotIcon = 'path://M0,0M24,6M14,3a2,2,0,1,0,4,0a2,2,0,1,0,-4,0Z';
const dashIcon = 'path://M0,0M24,6M0,2.1h6v1.8h-6zM9,2.1h6v1.8h-6zM18,2.1h6v1.8h-6z';
const solidIcon = 'path://M0,0M18,6M0,2.2h18v1.6h-18z';

const chart = echarts.init(document.getElementById('c'));
chart.setOption({
  animation: false,
  backgroundColor: '#fff',
  title: {
    text: 'Finished Lot CT: Largest Route Group, 60% of Product WIP',
    left: 'center', top: 6,
    textStyle: { fontFamily: sans, fontSize: 16, fontWeight: 'bold', color: '#505050' }
  },
  grid: { left: 45, right: 48, top: 39, bottom: 46, show: true, borderColor: axisColor, borderWidth: 1, backgroundColor: 'transparent' },
  legend: [
    {
      orient: 'vertical', left: 50, top: 44,
      padding: [3, 6, 4, 3], itemWidth: 24, itemHeight: 6, itemGap: 4,
      backgroundColor: 'rgba(255,255,255,0.85)', borderColor: '#cccccc', borderWidth: 1, borderRadius: 3,
      textStyle: { fontFamily: dv, fontSize: 10, color: '#222', lineHeight: 11 },
      data: [
        { name: 'Lot Cycle Time [d]', icon: dotIcon },
        { name: 'Finished CT - 10 lot MA', icon: dotIcon },
        { name: 'Finished CT - 100 lot MA', lineStyle: { width: 2.5 } },
        { name: 'Finished CT - 300 lot MA', lineStyle: { width: 2.5 } },
        { name: 'Littles Theoretical CT', icon: dashIcon }
      ]
    },
    {
      orient: 'vertical', left: 532, top: 327,
      padding: [3, 4, 4, 9], itemWidth: 18, itemHeight: 6,
      backgroundColor: '#fff', borderColor: '#cccccc', borderWidth: 1, borderRadius: 3,
      textStyle: { fontFamily: dv, fontSize: 10, color: '#222', lineHeight: 11 },
      data: [{ name: 'Avg Weekly WIP', icon: solidIcon }]
    }
  ],
  xAxis: {
    type: 'value', min: 0.69, max: 14.13,
    splitLine: { show: false },
    axisLine: { show: true, lineStyle: { color: axisColor } },
    axisTick: { show: true, length: 4, lineStyle: { color: axisColor }, customValues: xTickMonths },
    axisLabel: { customValues: xTickMonths, formatter: v => 'Month ' + v, color: labelColor, fontFamily: sans, fontSize: 12.5, margin: 7 },
    name: 'Time', nameLocation: 'middle', nameGap: 30,
    nameTextStyle: { fontFamily: sans, fontSize: 18, fontWeight: 'bold', color: '#444' }
  },
  yAxis: [
    {
      type: 'value', position: 'left', min: 0.093, max: 1.968,
      splitLine: { show: false },
      axisLine: { show: true, lineStyle: { color: axisColor } },
      axisTick: { show: true, length: 4, lineStyle: { color: axisColor }, customValues: leftTicks },
      axisLabel: { customValues: leftTicks, formatter: v => v.toFixed(2) + 'N', color: labelColor, fontFamily: sans, fontSize: 12.5, margin: 7 }
    },
    {
      type: 'value', position: 'right', min: -0.13, max: 3.151,
      splitLine: { show: false },
      axisLine: { show: true, lineStyle: { color: axisColor } },
      axisTick: { show: true, length: 4, lineStyle: { color: axisColor }, customValues: rightTicks },
      axisLabel: { customValues: rightTicks, formatter: v => v.toFixed(1) + 'X', color: labelColor, fontFamily: sans, fontSize: 12.5, margin: 8 }
    }
  ],
  series: [
    { name: 'Lot Cycle Time [d]', type: 'scatter', data: lotCycleTime, symbolSize: 5.5,
      itemStyle: { color: '#aaeced' }, z: 1, silent: true, large: false },
    { name: 'Finished CT - 10 lot MA', type: 'scatter', data: ma10, symbolSize: 5.5,
      itemStyle: { color: '#bdbdbd' }, z: 2, silent: true, large: false },
    { name: 'Avg Weekly WIP', type: 'line', yAxisIndex: 1, step: 'end', data: zip(weekMonths, avgWip),
      symbol: 'none', lineStyle: { color: '#111', width: 1.6 }, itemStyle: { color: '#111' }, z: 3, silent: true },
    { name: 'Littles Theoretical CT', type: 'line', step: 'end', data: zip(weekMonths, littlesCT),
      symbol: 'none', lineStyle: { color: '#a12ca8', width: 1.6, type: [5, 3] }, itemStyle: { color: '#a12ca8' }, z: 4, silent: true },
    { name: 'Finished CT - 100 lot MA', type: 'line', data: zip(ma100Months, ma100),
      symbol: 'circle', showSymbol: false, lineStyle: { color: '#228b22', width: 5 }, itemStyle: { color: '#228b22' }, z: 5, silent: true },
    { name: 'Finished CT - 300 lot MA', type: 'line', data: zip(ma300Months, ma300),
      symbol: 'circle', showSymbol: false, lineStyle: { color: '#ff0000', width: 5.5 }, itemStyle: { color: '#ff0000' }, z: 6, silent: true }
  ]
});
</script>
</body></html>
